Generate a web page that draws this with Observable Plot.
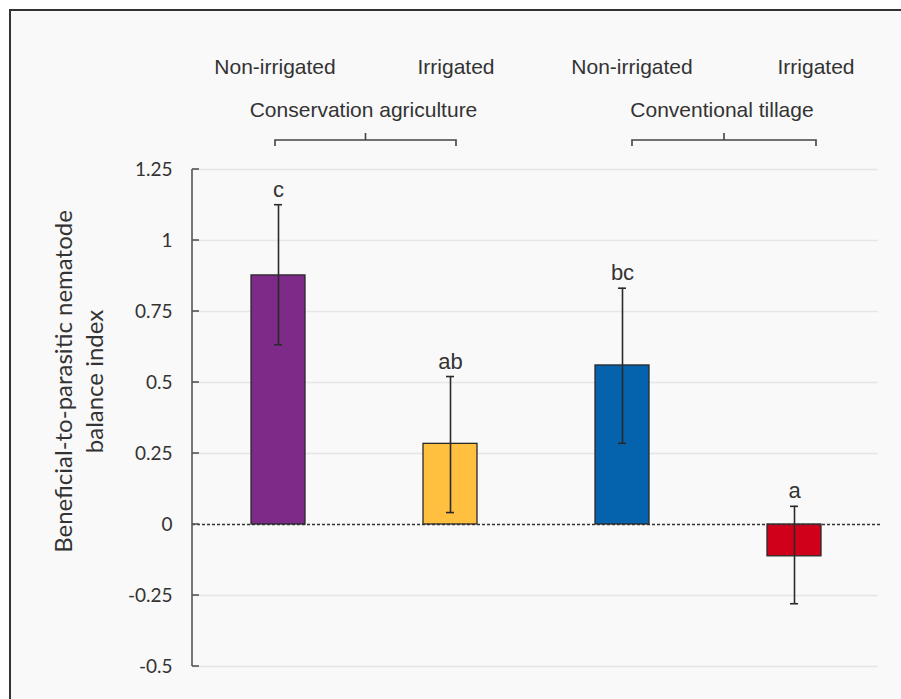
<!DOCTYPE html>
<html><head><meta charset="utf-8">
<script src="https://cdn.jsdelivr.net/npm/d3@7"></script>
<script src="https://cdn.jsdelivr.net/npm/@observablehq/plot@0.6"></script>
<style>
html,body{margin:0;padding:0;background:#fff;}
#wrap{position:relative;width:901px;height:699px;overflow:hidden;}
#panel{position:absolute;left:9px;top:9px;width:900px;height:700px;border-left:2.5px solid #333;border-top:2.5px solid #333;background:#f9f9f9;}
#chart{position:absolute;left:0;top:0;}
#chart svg{background:none;overflow:visible;}
</style></head><body>
<div id="wrap"><div id="panel"></div><div id="chart"></div></div>
<script>
// ---- data ----
const treatments = ["CA-NI", "CA-I", "CT-NI", "CT-I"];
const irrigationLabels = ["Non-irrigated", "Irrigated", "Non-irrigated", "Irrigated"];
const systems = ["Conservation agriculture", "Conventional tillage"];
const systemOf = [0, 0, 1, 1];
const means = [0.877, 0.284, 0.560, -0.112];
const lower = [0.633, 0.042, 0.286, -0.279];
const upper = [1.126, 0.521, 0.832, 0.064];
const letters = ["c", "ab", "bc", "a"];
const colors = ["#7d2a88", "#ffc040", "#0563ad", "#d0001a"];
const yTicks = [-0.5, -0.25, 0, 0.25, 0.5, 0.75, 1, 1.25];
const yTickLabels = ["-0.5", "-0.25", "0", "0.25", "0.5", "0.75", "1", "1.25"];
const yTitle = ["Beneficial-to-parasitic nematode", "balance index"];

const data = treatments.map((t, i) => ({
  t, mean: means[i], lo: lower[i], hi: upper[i], letter: letters[i]
}));

function annotations(index, scales, values, dims) {
  const x = scales.x, y = scales.y;
  const bw = x.bandwidth ? x.bandwidth() : 0;
  const cx = (t) => x(t) + bw / 2;
  const shift = [-3, 6, 10, 22];
  const g = d3.create("svg:g");
  const x0 = dims.marginLeft;
  // y axis line and inward ticks
  g.append("line").attr("x1", x0).attr("x2", x0)
    .attr("y1", y(yTicks[0])).attr("y2", y(yTicks[yTicks.length - 1]))
    .attr("stroke", "#555").attr("stroke-width", 1.6);
  for (const v of yTicks) {
    g.append("line").attr("x1", x0).attr("x2", x0 + 7)
      .attr("y1", y(v)).attr("y2", y(v))
      .attr("stroke", "#555").attr("stroke-width", 1.6);
  }
  const top = dims.marginTop;
  treatments.forEach((t, i) => {
    g.append("text").attr("x", cx(t) + shift[i]).attr("y", top - 95)
      .attr("text-anchor", "middle").attr("fill", "#333")
      .attr("font-family", "Liberation Sans, Arial, sans-serif").attr("font-size", 21)
      .text(irrigationLabels[i]);
  });
  systems.forEach((s, k) => {
    const idx = treatments.map((t, i) => i).filter((i) => systemOf[i] === k);
    const ia = idx[0], ib = idx[idx.length - 1];
    const xa = cx(treatments[ia]) + shift[ia];
    const xb = cx(treatments[ib]) + shift[ib];
    const yb = top - 29;
    const mid = (xa + xb) / 2;
    g.append("path")
      .attr("d", `M${xa},${yb + 6}V${yb}H${xb}V${yb + 6}M${mid},${yb}V${yb - 7}`)
      .attr("fill", "none").attr("stroke", "#444").attr("stroke-width", 1.6);
    g.append("text").attr("x", mid - 2).attr("y", top - 52)
      .attr("text-anchor", "middle").attr("fill", "#333")
      .attr("font-family", "Liberation Sans, Arial, sans-serif").attr("font-size", 21)
      .text(s);
  });
  return g.node();
}

const chart = Plot.plot({
  width: 901,
  height: 699,
  marginLeft: 192,
  marginRight: 20,
  marginTop: 169,
  marginBottom: 33,
  style: {background: "none", overflow: "visible"},
  x: {domain: treatments, paddingInner: 0.685, paddingOuter: 0.3425, axis: null},
  y: {domain: [-0.5, 1.25], label: null},
  color: {domain: treatments, range: colors},
  marks: [
    Plot.ruleY(yTicks.filter((d) => d !== 0), {stroke: "#e6e6e6", strokeWidth: 1.5, insetRight: 3}),
    Plot.barY(data, {x: "t", y: "mean", fill: "t", stroke: "#2a2a2a", strokeWidth: 1.3}),
    Plot.ruleY([0], {stroke: "#333", strokeDasharray: "3,2", strokeWidth: 1.6}),
    Plot.ruleX(data, {x: "t", y1: "lo", y2: "hi", stroke: "#2a2a2a", strokeWidth: 1.6}),
    Plot.tickY(data, {x: "t", y: "hi", insetLeft: 23, insetRight: 23, stroke: "#2a2a2a", strokeWidth: 1.6}),
    Plot.tickY(data, {x: "t", y: "lo", insetLeft: 23, insetRight: 23, stroke: "#2a2a2a", strokeWidth: 1.6}),
    Plot.text(data, {x: "t", y: "hi", text: "letter", dy: -8, lineAnchor: "bottom",
      fontSize: 22, fontFamily: "Liberation Sans, Arial, sans-serif", fill: "#333"}),
    Plot.axisY(yTicks, {tickSize: 0, tickPadding: 20, label: null,
      tickFormat: (d) => yTickLabels[yTicks.indexOf(d)],
      fontSize: 19, fontFamily: "Lato, sans-serif", fill: "#333"}),
    Plot.text([yTitle.join("\n")], {frameAnchor: "left", dx: -114.5, dy: -36.5, rotate: -90,
      textAnchor: "middle", lineAnchor: "middle", lineHeight: 1.29,
      fontSize: 24, fontFamily: "Lato, sans-serif", fill: "#333"}),
    annotations
  ]
});
document.getElementById("chart").appendChild(chart);
</script>
</body></html>
